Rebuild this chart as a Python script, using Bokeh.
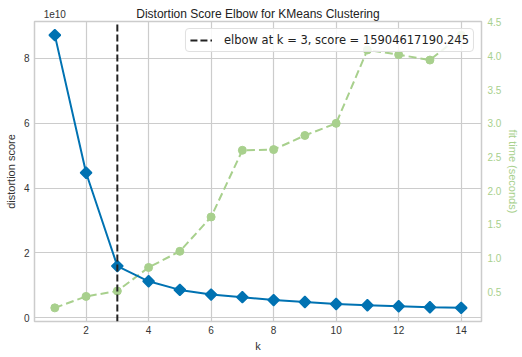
import numpy as np
from bokeh.plotting import figure
from bokeh.models import (Range1d, LinearAxis, FixedTicker, Legend, LegendItem,
                          NumeralTickFormatter)
from bokeh.embed import file_html
from bokeh.resources import INLINE

# ---- data ----
k_values = [1, 2, 3, 4, 5, 6, 7, 8, 9, 10, 11, 12, 13, 14]
distortion_scores = [8.72e10, 4.47e10, 1.5904617190245e10, 1.12e10, 0.855e10, 0.71e10, 0.63e10,
                     0.54e10, 0.48e10, 0.42e10, 0.38e10, 0.35e10, 0.32e10, 0.30e10]
fit_times = [0.26, 0.43, 0.51, 0.86, 1.10, 1.61, 2.60, 2.61, 2.82, 3.00, 4.09, 4.02, 3.94, 4.31]
elbow_k = 3
elbow_score = 15904617190.245
x_ticks = [2, 4, 6, 8, 10, 12, 14]
left_ticks = [0, 2, 4, 6, 8]
right_ticks = [0.5, 1.0, 1.5, 2.0, 2.5, 3.0, 3.5, 4.0, 4.5]
offset = 1e10
offset_text = "1e10"
title_text = "Distortion Score Elbow for KMeans Clustering"

FONT = "Liberation Sans"
BLUE = "#0072B2"
GREEN = "#a8d08d"

scores_scaled = np.array(distortion_scores) / offset

def padded(lo, hi, frac=0.05):
    span = hi - lo
    return lo - frac * span, hi + frac * span

x0, x1 = padded(min(k_values), max(k_values))
y0, y1 = padded(scores_scaled.min(), scores_scaled.max())
t0, t1 = padded(min(fit_times), max(fit_times))

p = figure(width=522, height=357, output_backend="svg", toolbar_location=None,
           x_range=Range1d(x0, x1), y_range=Range1d(y0, y1),
           min_border_left=34, min_border_right=41, min_border_top=21, min_border_bottom=36)
p.title = None
p.extra_y_ranges = {"time": Range1d(t0, t1)}

p.background_fill_color = "white"
p.border_fill_color = "white"
p.outline_line_color = "#cccccc"
p.outline_line_width = 1.5

for g in (p.xgrid, p.ygrid):
    g.grid_line_color = "#cccccc"
    g.grid_line_width = 1.2
p.xgrid.ticker = FixedTicker(ticks=x_ticks)
p.ygrid.ticker = FixedTicker(ticks=left_ticks)

def style_axis(ax, color="#333333"):
    ax.axis_line_color = None
    ax.major_tick_line_color = None
    ax.minor_tick_line_color = None
    ax.major_tick_out = 0
    ax.major_tick_in = 0
    ax.minor_tick_out = 0
    ax.minor_tick_in = 0
    ax.major_label_text_font = FONT
    ax.major_label_text_font_size = "10px"
    ax.major_label_text_color = color
    ax.axis_label_text_font = FONT
    ax.axis_label_text_font_size = "11px"
    ax.axis_label_text_font_style = "normal"
    ax.axis_label_text_color = color

xa = p.xaxis[0]
xa.ticker = FixedTicker(ticks=x_ticks)
xa.axis_label = "k"
style_axis(xa)
xa.major_label_standoff = 4
xa.axis_label_standoff = 3

ya = p.yaxis[0]
ya.ticker = FixedTicker(ticks=left_ticks)
ya.axis_label = "distortion score"
style_axis(ya)
ya.major_label_standoff = 5
ya.axis_label_standoff = 4

ra = LinearAxis(y_range_name="time", ticker=FixedTicker(ticks=right_ticks),
                axis_label="fit time (seconds)",
                formatter=NumeralTickFormatter(format="0.0"))
style_axis(ra, GREEN)
ra.major_label_standoff = 6
ra.axis_label_standoff = 3
p.add_layout(ra, "right")

# top axis carrying the offset text ("1e10") as a tick label and the title as its label
ta = LinearAxis(ticker=FixedTicker(ticks=[k_values[0]]),
                major_label_overrides={k_values[0]: offset_text},
                axis_label=title_text)
style_axis(ta)
ta.major_label_text_align = "right"
ta.major_label_standoff = 4
ta.axis_label_text_font_size = "12px"
ta.axis_label_text_color = "#222222"
ta.axis_label_standoff = -14
p.add_layout(ta, "above")

# fit time (secondary)
p.line(k_values, fit_times, y_range_name="time", line_color=GREEN, line_width=2,
       line_dash="8 4")
p.scatter(k_values, fit_times, y_range_name="time", marker="circle", size=8,
          fill_color=GREEN, line_color=GREEN)

# distortion
p.line(k_values, list(scores_scaled), line_color=BLUE, line_width=2)
p.scatter(k_values, list(scores_scaled), marker="square", angle=np.pi / 4, size=8,
          fill_color=BLUE, line_color=BLUE, line_width=1.5)

# elbow line
elbow = p.line([elbow_k, elbow_k], [y0, y1], line_color="#222222", line_width=2,
               line_dash="7 3")

legend = Legend(items=[LegendItem(label=f"elbow at k = {elbow_k}, score = {elbow_score:.3f}",
                                  renderers=[elbow])],
                location="top_right")
legend.label_text_font = "DejaVu Sans"
legend.label_text_font_size = "11.5px"
legend.label_text_color = "#222222"
legend.border_line_color = "#e0e0e0"
legend.border_line_alpha = 1
legend.background_fill_alpha = 0.85
legend.margin = 7
legend.padding = 4
legend.spacing = 0
legend.glyph_width = 22
legend.glyph_height = 14
legend.label_height = 14
legend.label_standoff = 12
legend.border_radius = 4
p.add_layout(legend, "center")

open("out.html", "w").write(file_html(p, INLINE))
